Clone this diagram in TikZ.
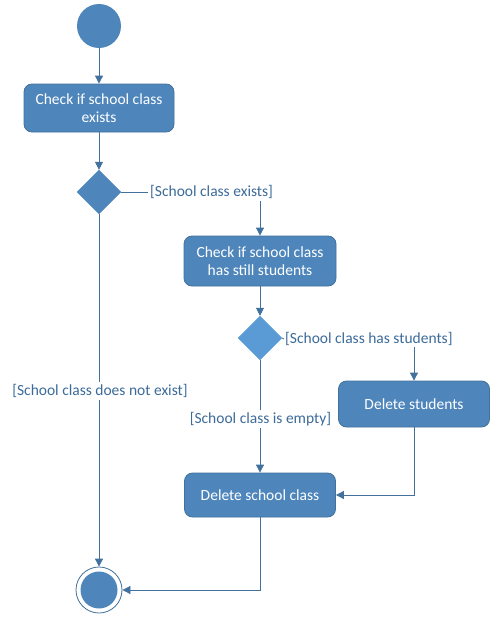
\documentclass[tikz,border=0pt]{standalone}
\usepackage{fontspec}
\setmainfont{Carlito}
\usetikzlibrary{shapes.geometric,arrows.meta}
\definecolor{boxfill}{HTML}{4E86BC}
\definecolor{boxdraw}{HTML}{41719C}
\definecolor{dlight}{HTML}{5B9BD5}
\definecolor{linec}{HTML}{41719C}
\definecolor{labc}{HTML}{3C6B9A}
\tikzset{
  act/.style={rectangle, rounded corners=8pt, fill=boxfill, draw=boxdraw, line width=0.8pt,
    text=white, font=\fontsize{15.5}{18}\selectfont, align=center, inner sep=0pt},
  dec/.style={diamond, fill=boxfill, draw=boxfill, minimum width=44pt, minimum height=44pt, inner sep=0pt},
  guard/.style={text=labc, font=\fontsize{15.5}{18}\selectfont, inner sep=2pt, fill=white},
  flow/.style={draw=linec, line width=0.8pt, -{Triangle[length=8pt,width=8pt]}},
  seg/.style={draw=linec, line width=0.8pt},
}
\begin{document}
\begin{tikzpicture}[x=1pt,y=-1pt]
\useasboundingbox (0,0) rectangle (495,621);
\node[circle, fill=boxfill, minimum size=44pt, inner sep=0pt] (start) at (99,26) {};
\node[act, minimum width=150pt, minimum height=48pt] (b1) at (99,108) {Check if school class\\exists};
\node[dec] (d1) at (99,192) {};
\node[guard, anchor=west] (l1) at (148,192) {[School class exists]};
\node[act, minimum width=152pt, minimum height=50pt] (b2) at (260,261) {Check if school class\\has still students};
\node[dec, fill=dlight, draw=dlight] (d2) at (260,338) {};
\node[guard, anchor=west, inner sep=1pt] (l2) at (284,339) {[School class has students]};
\node[act, minimum width=151pt, minimum height=46pt] (b3) at (414,404) {Delete students};
\node[guard] (l4) at (260.5,419) {[School class is empty]};
\node[act, minimum width=151pt, minimum height=44pt] (b4) at (260,495) {Delete school class};
\node[guard] (l3) at (100,391) {[School class does not exist]};
\node[circle, draw=linec, line width=0.8pt, minimum size=46pt, inner sep=0pt] (end) at (99,590) {};
\node[circle, fill=boxfill, minimum size=37pt, inner sep=0pt] (endin) at (99,590) {};

\draw[flow] (start) -- (b1);
\draw[flow] (b1) -- (d1);
\draw[seg] (d1.east) -- (l1.west);
\draw[flow] (b2.north |- l1.south) -- (b2.north);
\draw[flow] (b2) -- (d2);
\draw[seg] (d2.east) -- (l2.west);
\draw[flow] (b3.north |- l2.south) -- (b3.north);
\draw[seg] (d2.south) -- (l4.north -| d2.south);
\draw[flow] (l4.south -| b4.north) -- (b4.north);
\draw[flow] (b3.south) |- (b4.east);
\draw[seg] (d1.south) -- (l3.north -| d1.south);
\draw[flow] (l3.south -| end.north) -- (end.north);
\draw[flow] (b4.south) |- (end.east);
\end{tikzpicture}
\end{document}
